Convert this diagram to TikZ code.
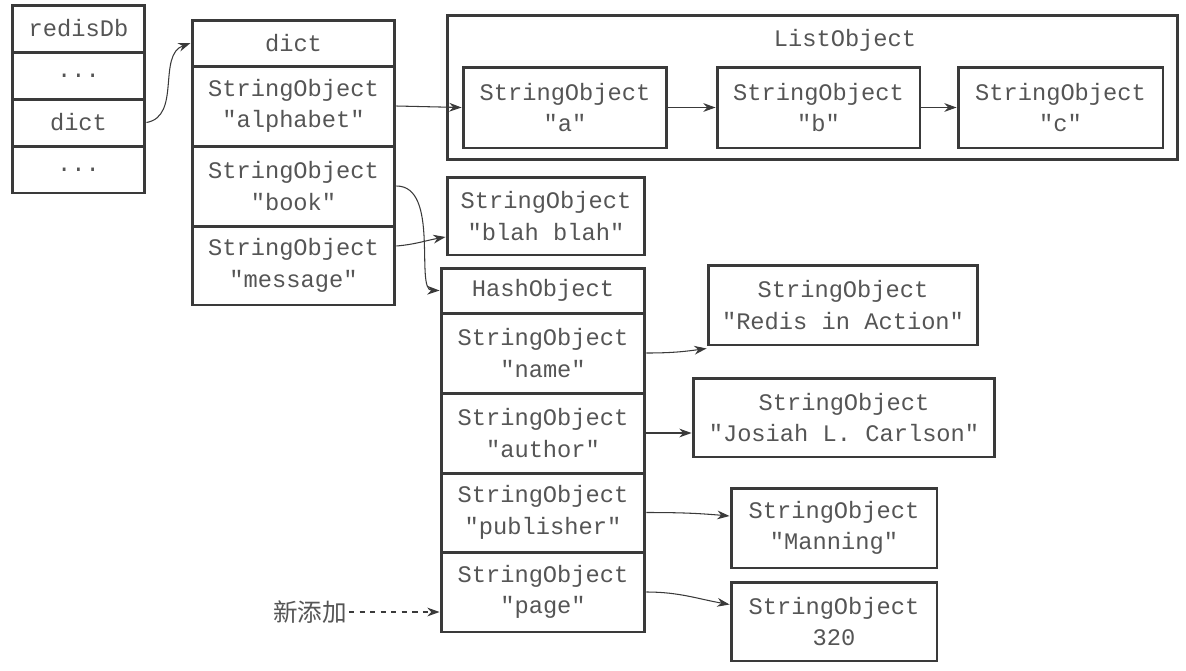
\documentclass[tikz,border=0pt]{standalone}
\usepackage{fontspec}
\usepackage{tikz}
\usetikzlibrary{arrows.meta,positioning,calc}
\newfontfamily\monofont{Liberation Mono}
\newfontfamily\cjk{Noto Sans CJK SC}
\definecolor{boxline}{HTML}{3A3A3A}
\definecolor{txtgray}{HTML}{555555}

\begin{document}
\begin{tikzpicture}[x=0.02cm, y=-0.02cm,
  cell/.style={rectangle, draw=boxline, line width=1.7pt, minimum width=#1, inner sep=0pt, align=center, text=txtgray, font=\fontsize{13.5}{18}\selectfont\monofont},
  link/.style={-{Stealth[length=7pt,width=5pt]}, line width=0.6pt, boxline}
]
  \useasboundingbox (0,0) rectangle (1186,670);
  \node[cell=2.66cm, minimum height=0.94cm] (db0) at (78.5,28.5) {redisDb};
  \node[cell=2.66cm, minimum height=0.94cm] (db1) at (78.5,75.5) {...};
  \node[cell=2.66cm, minimum height=0.94cm] (db2) at (78.5,122.5) {dict};
  \node[cell=2.66cm, minimum height=0.94cm] (db3) at (78.5,169.5) {...};
  \node[cell=4.06cm, minimum height=0.92cm] (dict0) at (293.5,43) {dict};
  \node[cell=4.06cm, minimum height=1.6cm] (dict1) at (293.5,106) {StringObject\\"alphabet"};
  \node[cell=4.06cm, minimum height=1.6cm] (dict2) at (293.5,186) {StringObject\\"book"};
  \node[cell=4.06cm, minimum height=1.58cm] (dict3) at (293.5,265.5) {StringObject\\"message"};
  \node[cell=14.62cm, minimum height=2.9cm] (list) at (812.5,87.5) {};
  \node[text=txtgray, font=\fontsize{13.5}{18}\selectfont\monofont] (listtitle) at (845,40) {ListObject};
  \node[cell=4.08cm, minimum height=1.62cm] (la) at (565,107.5) {StringObject\\"a"};
  \node[cell=4.06cm, minimum height=1.62cm] (lb) at (818.5,107.5) {StringObject\\"b"};
  \node[cell=4.1cm, minimum height=1.62cm] (lc) at (1060.5,107.5) {StringObject\\"c"};
  \node[cell=3.96cm, minimum height=1.56cm] (blah) at (546,216) {StringObject\\"blah blah"};
  \node[cell=4.08cm, minimum height=0.9cm] (hash0) at (543,290.5) {HashObject};
  \node[cell=4.08cm, minimum height=1.6cm] (hash1) at (543,353) {StringObject\\"name"};
  \node[cell=4.08cm, minimum height=1.6cm] (hash2) at (543,433) {StringObject\\"author"};
  \node[cell=4.08cm, minimum height=1.58cm] (hash3) at (543,512.5) {StringObject\\"publisher"};
  \node[cell=4.08cm, minimum height=1.6cm] (hash4) at (543,592) {StringObject\\"page"};
  \node[cell=5.4cm, minimum height=1.6cm] (vname) at (843,305) {StringObject\\"Redis in Action"};
  \node[cell=6.04cm, minimum height=1.58cm] (vauthor) at (844,417.5) {StringObject\\"Josiah L. Carlson"};
  \node[cell=4.12cm, minimum height=1.6cm] (vpub) at (834,528) {StringObject\\"Manning"};
  \node[cell=4.12cm, minimum height=1.58cm] (vpage) at (834,621.5) {StringObject\\320};
  \node[text=txtgray, font=\fontsize{14}{18}\selectfont\cjk, inner sep=1pt] (newadd) at (310,612) {新添加};
  \draw[link] (db2.east) to[out=10,in=200] (dict0.west);
  \draw[link] (dict1.east) -- (la.west);
  \draw[link] (la.east) -- (lb.west);
  \draw[link] (lb.east) -- (lc.west);
  \draw[link] (dict2.east) .. controls (440,186) and (415,290) .. (hash0.west);
  \draw[link] ([yshift=0.39cm]dict3.east) to[out=5,in=190] ([yshift=-0.42cm]blah.west);
  \draw[link] (hash1.east) to[out=0,in=188] ([yshift=-0.04cm]vname.south west);
  \draw[link] (hash2.east) -- (hash2.east -| vauthor.west);
  \draw[link] (hash3.east) to[out=0,in=175] ([yshift=0.24cm]vpub.west);
  \draw[link] (hash4.east) to[out=0,in=170] ([yshift=0.34cm]vpage.west);
  \draw[link, dashed] (newadd.east) -- (newadd.east -| hash4.west);
\end{tikzpicture}
\end{document}
